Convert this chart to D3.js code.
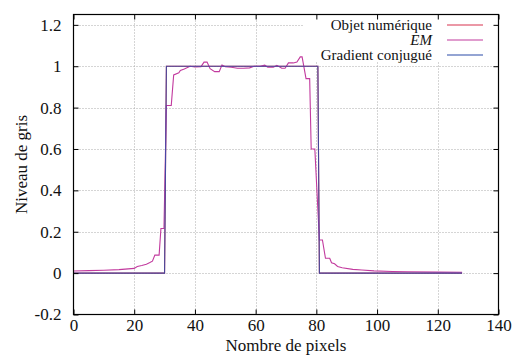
<!DOCTYPE html>
<html><head><meta charset="utf-8">
<script src="https://cdn.jsdelivr.net/npm/d3@7"></script>
<style>body{margin:0;background:#fff}svg text{font-family:"Liberation Serif",serif;fill:#111}</style>
</head><body><svg id="c" width="512" height="355"></svg>
<script>
const xTicks=[0,20,40,60,80,100,120,140];
const yTicks=[-0.2,0,0.2,0.4,0.6,0.8,1,1.2];
const yTickLabels=["-0.2","0","0.2","0.4","0.6","0.8","1","1.2"];
const objetX=[0,30,30.6,80.5,81,128];
const objetY=[0,0,1,1,0,0];
const gradX=[0,30,30.6,80.5,81,128];
const gradY=[0,0,1,1,0,0];
const emX=[0,5,10,15,20,21,22.5,24,25,26,26.8,28.2,28.8,29.8,30.6,32.2,33,34.7,35.2,36.5,38.4,40,42,43,44,45,46.5,48,48.9,50,52,54,56,58,59.5,61.5,63,64,65.8,67,68.6,69.7,70.8,72.4,73.6,74.7,75.3,76.6,77.8,78.3,79.5,81,82,83,84.4,85,86,87,88.5,92,95,99,105,110,120,128];
const emY=[0.010,0.012,0.014,0.017,0.023,0.032,0.037,0.043,0.05,0.058,0.087,0.087,0.216,0.216,0.81,0.81,0.958,0.968,0.98,0.987,1.0,0.996,0.998,1.02,1.02,0.988,0.974,0.974,1.006,0.998,0.995,0.99,0.99,0.992,1.0,1.0,1.005,0.995,0.995,1.004,0.99,0.99,1.016,1.016,1.02,1.045,1.045,0.94,0.94,0.6,0.6,0.16,0.16,0.072,0.072,0.05,0.045,0.032,0.026,0.018,0.015,0.011,0.008,0.0065,0.005,0.004];
const series=[
 {name:"Objet numérique",x:objetX,y:objetY,color:"#d8324e",italic:false},
 {name:"EM",x:emX,y:emY,color:"#c23a9e",italic:true},
 {name:"Gradient conjugué",x:gradX,y:gradY,color:"#2a4aa8",italic:false}
];
const L=73.5,R=498.5,T=14.5,B=314.5;
const FS=17;
const x=d3.scaleLinear().domain([0,140]).range([L,R]);
const y=d3.scaleLinear().domain([-0.2,1.25]).range([B,T]);
const svg=d3.select("#c");
const g=svg.append("g");
// grid
g.selectAll(".gx").data(xTicks.slice(1,-1)).enter().append("line")
 .attr("x1",d=>Math.round(x(d))+0.5).attr("x2",d=>Math.round(x(d))+0.5).attr("y1",T).attr("y2",B)
 .attr("stroke","#aaa").attr("stroke-dasharray","1,2");
g.selectAll(".gy").data(yTicks.slice(1)).enter().append("line")
 .attr("y1",d=>Math.round(y(d))+0.5).attr("y2",d=>Math.round(y(d))+0.5).attr("x1",L).attr("x2",R)
 .attr("stroke","#aaa").attr("stroke-dasharray","1,2");
// lines
const line=d3.line().x(d=>x(d[0])).y(d=>y(d[1]));
series.forEach(s=>{
 g.append("path").datum(s.x.map((v,i)=>[v,s.y[i]])).attr("d",line)
  .attr("fill","none").attr("stroke",s.color).attr("stroke-width",1.1)
  .attr("stroke-opacity",s.name==="Gradient conjugué"?0.85:1);
});
// legend
g.append("rect").attr("x",304).attr("y",T+0.5).attr("width",R-304-0.5).attr("height",47).attr("fill","#fff");
series.forEach((s,i)=>{
 const yy=25+i*15;
 g.append("text").attr("x",432).attr("y",yy).attr("dy","0.33em").attr("text-anchor","end")
  .attr("font-size",15).attr("font-style",s.italic?"italic":"normal").text(s.name);
 g.append("line").attr("x1",447).attr("x2",483).attr("y1",yy).attr("y2",yy)
  .attr("stroke",s.color).attr("stroke-width",1.1);
});
// axes with inward ticks
const ax=g.append("g").attr("transform",`translate(0,${B})`).call(d3.axisBottom(x).tickValues(xTicks).tickSize(-5).tickPadding(4));
const axT=g.append("g").attr("transform",`translate(0,${T})`).call(d3.axisTop(x).tickValues(xTicks).tickSize(-5).tickFormat(""));
const ay=g.append("g").attr("transform",`translate(${L},0)`).call(d3.axisLeft(y).tickValues(yTicks).tickFormat((d,i)=>yTickLabels[i]).tickSize(-5).tickPadding(12));
const ayR=g.append("g").attr("transform",`translate(${R},0)`).call(d3.axisRight(y).tickValues(yTicks).tickSize(-5).tickFormat(""));
[ax,axT,ay,ayR].forEach(a=>{a.select(".domain").remove();a.selectAll("text").attr("font-size",FS).attr("font-family","Liberation Serif").attr("fill","#111");a.selectAll("line").attr("stroke","#000");});
g.append("rect").attr("x",L).attr("y",T).attr("width",R-L).attr("height",B-T).attr("fill","none").attr("stroke","#000").attr("stroke-width",1.2);
g.append("text").attr("x",(L+R)/2).attr("y",351).attr("text-anchor","middle").attr("font-size",FS).text("Nombre de pixels");
g.append("text").attr("transform",`translate(27,${(T+B)/2}) rotate(-90)`).attr("text-anchor","middle").attr("font-size",FS).text("Niveau de gris");
</script></body></html>
